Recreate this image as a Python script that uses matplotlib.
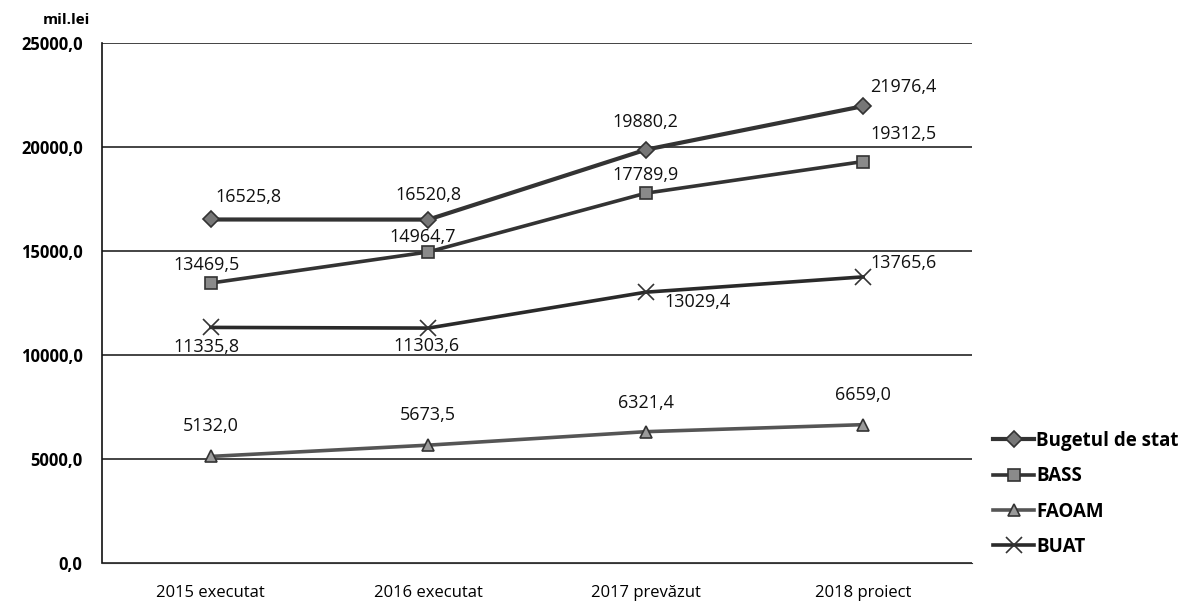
import numpy as np
import matplotlib
matplotlib.use("Agg")
import matplotlib.pyplot as plt

categories = ["2015 executat", "2016 executat", "2017 prevăzut", "2018 proiect"]
bugetul = [16525.8, 16520.8, 19880.2, 21976.4]
bass = [13469.5, 14964.7, 17789.9, 19312.5]
faoam = [5132.0, 5673.5, 6321.4, 6659.0]
buat = [11335.8, 11303.6, 13029.4, 13765.6]
yticks = [0, 5000, 10000, 15000, 20000, 25000]

plt.rcParams['font.family'] = ['Open Sans', 'DejaVu Sans']

fig = plt.figure(figsize=(11.88, 6.01), dpi=100)
ax = fig.add_axes([0.086, 0.063, 0.732, 0.865])

x = np.arange(len(categories))
series = [
    ("Bugetul de stat", bugetul, "D", "#333333", "#777777", 8, 3.0),
    ("BASS", bass, "s", "#333333", "#8a8a8a", 9, 2.6),
    ("FAOAM", faoam, "^", "#555555", "#9a9a9a", 9, 2.6),
    ("BUAT", buat, "x", "#2a2a2a", "#2a2a2a", 11, 2.6),
]
for name, vals, mk, col, mfc, ms, lw in series:
    ax.plot(x, vals, color=col, lw=lw, marker=mk, markersize=ms,
            markerfacecolor=mfc, markeredgecolor="#333333", markeredgewidth=1.2,
            label=name, zorder=3)

# label offsets (points) per series / point
offsets = {
    "Bugetul de stat": [(27, 16), (0, 18), (0, 20), (29, 14)],
    "BASS": [(-3, 13), (-4, 11), (0, 13), (29, 20)],
    "FAOAM": [(0, 22), (0, 22), (0, 21), (0, 21)],
    "BUAT": [(-3, -14), (-1, -13), (37, -7), (29, 10)],
}
for name, vals, *_ in series:
    for i, v in enumerate(vals):
        dx, dy = offsets[name][i]
        ax.annotate(f"{v:.1f}".replace(".", ","), (x[i], v), xytext=(dx, dy),
                    textcoords="offset points", ha="center", va="center",
                    fontsize=13, color="#111111", zorder=4)

ax.set_xlim(-0.5, 3.5)
ax.set_ylim(0, 25000)
ax.set_yticks(yticks)
ax.set_yticklabels([f"{t:.1f}".replace(".", ",") for t in yticks],
                   fontsize=12, fontweight="bold")
ax.set_xticks(x)
ax.set_xticklabels(categories, fontsize=12)
ax.tick_params(axis="x", length=0, pad=16)
ax.tick_params(axis="y", length=0, pad=14)
ax.yaxis.grid(True, color="#111111", lw=1.1)
ax.set_axisbelow(True)
for s in ["top", "right"]:
    ax.spines[s].set_visible(False)
ax.spines["left"].set_color("#111111")
ax.spines["bottom"].set_color("#333333")
ax.spines["left"].set_linewidth(1.2)

fig.text(0.076, 0.955, "mil.lei", fontsize=11, fontweight="bold", ha="right", va="bottom")

leg = ax.legend(loc="center left", bbox_to_anchor=(1.005, 0.133), frameon=False,
                handlelength=2.2, handletextpad=0.1, labelspacing=0.82,
                prop={"weight": "bold", "size": 13.5})

fig.savefig("out.png", dpi=100)
